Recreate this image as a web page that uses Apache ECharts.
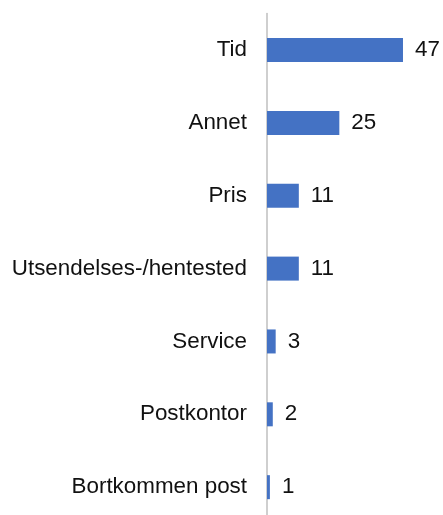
<!DOCTYPE html>
<html>
<head>
<meta charset="utf-8">
<script src="https://cdn.jsdelivr.net/npm/echarts@6/dist/echarts.min.js"></script>
<style>
  html, body { margin: 0; padding: 0; background: #fff; }
  #chart { width: 443px; height: 515px; }
</style>
</head>
<body>
<div id="chart"></div>
<script>
// kategorier og verdier
const categories = ['Tid', 'Annet', 'Pris', 'Utsendelses-/hentested', 'Service', 'Postkontor', 'Bortkommen post']
const values = [47, 25, 11, 11, 3, 2, 1]

const chart = echarts.init(document.getElementById('chart'))
const option = {
  animation: false,
  grid: {
    left: 267,
    top: 13.6,
    width: 173.6,
    height: 510,
    outerBoundsMode: 'none' // la grid gå under bunnkanten
  },
  xAxis: {
    type: 'value',
    min: 0,
    max: 60,
    show: false
  },
  yAxis: {
    type: 'category',
    inverse: true, // første kategori øverst
    data: categories,
    axisLine: { show: true, lineStyle: { color: '#bfbfbf', width: 1.5 } },
    axisTick: { show: false },
    axisLabel: {
      margin: 20,
      color: '#111',
      fontFamily: 'Liberation Sans, Arial, sans-serif',
      fontSize: 22.4
    }
  },
  series: [
    {
      type: 'bar',
      data: values,
      barWidth: 24,
      itemStyle: { color: '#4472c4' },
      label: {
        show: true,
        position: 'right',
        distance: 12,
        color: '#111',
        fontFamily: 'Liberation Sans, Arial, sans-serif',
        fontSize: 22.4
      }
    }
  ]
}
chart.setOption(option)
</script>
</body>
</html>
